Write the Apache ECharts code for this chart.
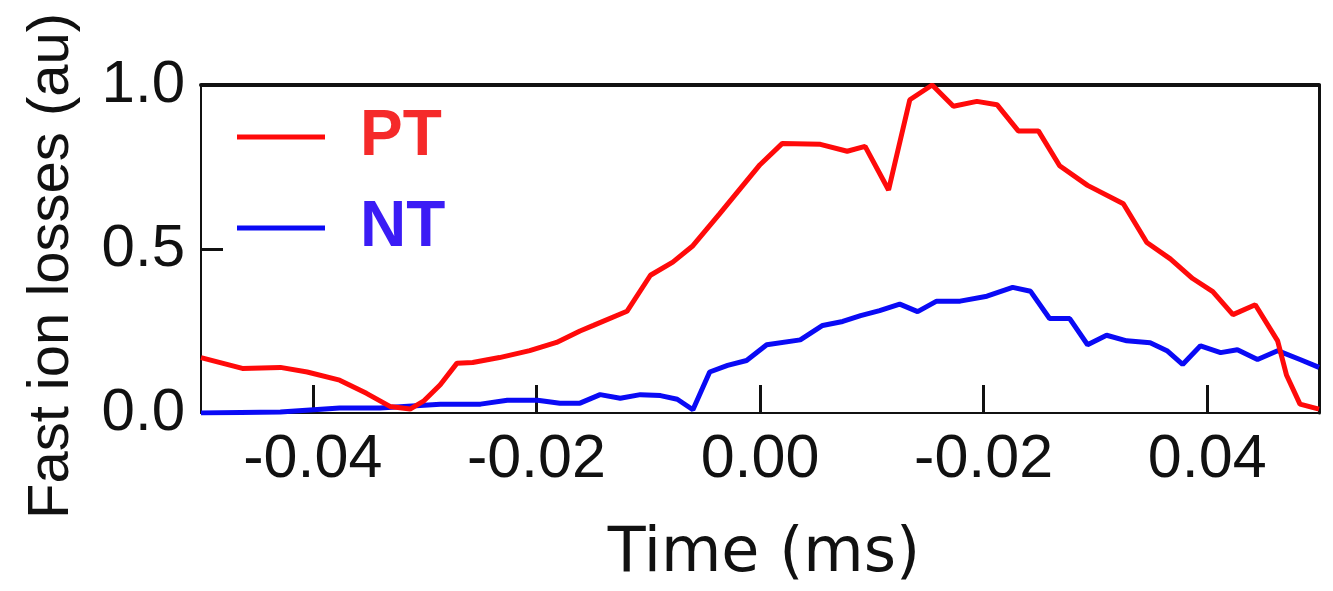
<!DOCTYPE html>
<html>
<head>
<meta charset="utf-8">
<title>Fast ion losses</title>
<script src="https://cdn.jsdelivr.net/npm/echarts@6/dist/echarts.min.js"></script>
<style>
  html, body { margin: 0; padding: 0; background: #fff; }
  #chart { width: 1333px; height: 591px; }
</style>
</head>
<body>
<div id="chart"></div>
<script>
// PT (positive triangularity) fast ion losses, time in ms
const ptTime = [-0.0500, -0.0463, -0.0429, -0.0405, -0.0376, -0.0352, -0.0331, -0.0313, -0.0301, -0.0286,
  -0.0271, -0.0257, -0.0233, -0.0206, -0.0182, -0.0161, -0.0149, -0.0119, -0.0098, -0.0078,
  -0.0060, -0.0036, 0.0000, 0.0020, 0.0054, 0.0078, 0.0094, 0.0115, 0.0134, 0.0154,
  0.0173, 0.0194, 0.0212, 0.0231, 0.0249, 0.0268, 0.0293, 0.0325, 0.0346, 0.0367,
  0.0387, 0.0405, 0.0423, 0.0443, 0.0463, 0.0471, 0.0483, 0.0500];
const ptLoss = [0.169, 0.136, 0.139, 0.125, 0.100, 0.060, 0.020, 0.012, 0.036, 0.086,
  0.152, 0.154, 0.169, 0.190, 0.215, 0.250, 0.267, 0.310, 0.420, 0.460,
  0.510, 0.608, 0.757, 0.822, 0.819, 0.798, 0.813, 0.680, 0.955, 1.000,
  0.935, 0.950, 0.940, 0.860, 0.860, 0.754, 0.694, 0.638, 0.520, 0.470,
  0.410, 0.370, 0.300, 0.330, 0.220, 0.115, 0.027, 0.012];

// NT (negative triangularity) fast ion losses
const ntTime = [-0.0500, -0.0429, -0.0376, -0.0340, -0.0286, -0.0250, -0.0226, -0.0199, -0.0179, -0.0161,
  -0.0143, -0.0125, -0.0107, -0.0089, -0.0074, -0.0060, -0.0045, -0.0029, -0.0012, 0.0006,
  0.0036, 0.0056, 0.0074, 0.0090, 0.0107, 0.0125, 0.0141, 0.0158, 0.0179, 0.0203,
  0.0226, 0.0242, 0.0259, 0.0277, 0.0293, 0.0310, 0.0328, 0.0349, 0.0364, 0.0378,
  0.0394, 0.0412, 0.0427, 0.0445, 0.0463, 0.0483, 0.0500];
const ntLoss = [0.000, 0.003, 0.015, 0.015, 0.027, 0.027, 0.039, 0.039, 0.030, 0.030,
  0.056, 0.045, 0.056, 0.053, 0.042, 0.010, 0.125, 0.145, 0.160, 0.208,
  0.223, 0.267, 0.279, 0.297, 0.312, 0.332, 0.309, 0.341, 0.341, 0.356,
  0.383, 0.371, 0.288, 0.288, 0.208, 0.237, 0.220, 0.214, 0.190, 0.148,
  0.205, 0.184, 0.193, 0.163, 0.190, 0.163, 0.139];

// Time axis ticks and the labels printed under them
const xTickValues = [-0.04, -0.02, 0.00, 0.02, 0.04];
const xTickLabels = ['-0.04', '-0.02', '0.00', '-0.02', '0.04'];

const seriesNames = ['PT', 'NT'];

const pair = (xs, ys) => xs.map((x, i) => [x, ys[i]]);

const ink = '#111';
const chart = echarts.init(document.getElementById('chart'), null, { renderer: 'canvas' });

chart.setOption({
  backgroundColor: '#fff',
  animation: false,
  grid: { left: 201, right: 14, top: 85, bottom: 169, containLabel: false },
  legend: {
    orient: 'vertical',
    left: 237,
    top: 103,
    padding: 0,
    icon: 'rect',
    itemWidth: 88,
    itemHeight: 5,
    itemGap: 23,
    textStyle: { fontFamily: 'Liberation Sans', fontWeight: 'bold', fontSize: 64, lineHeight: 64, padding: [4, 0, 0, 30] },
    data: [
      { name: seriesNames[0], textStyle: { color: '#f52a2a' } },
      { name: seriesNames[1], textStyle: { color: '#3b1cf5' } }
    ]
  },
  xAxis: [
    {
      type: 'value', min: -0.05, max: 0.05, position: 'bottom',
      axisLine: { onZero: false, lineStyle: { color: ink, width: 2 } },
      axisTick: { inside: true, length: 28, customValues: xTickValues, lineStyle: { color: ink, width: 3 } },
      axisLabel: {
        customValues: xTickValues, margin: 17,
        fontFamily: 'Liberation Sans', fontSize: 61, color: ink,
        formatter: v => {
          const i = xTickValues.findIndex(t => Math.abs(t - v) < 1e-9);
          return i >= 0 ? xTickLabels[i] : '';
        }
      },
      splitLine: { show: false },
      name: 'Time (ms)', nameLocation: 'middle', nameGap: 111,
      nameTextStyle: { fontFamily: 'DejaVu Sans', fontSize: 62, color: ink, padding: [0, 0, 0, 8] }
    },
    {
      type: 'value', min: -0.05, max: 0.05, position: 'top',
      axisLine: { onZero: false, lineStyle: { color: ink, width: 4 } },
      axisTick: { show: false }, axisLabel: { show: false }, splitLine: { show: false }
    }
  ],
  yAxis: [
    {
      type: 'value', min: 0, max: 1, interval: 0.5, position: 'left',
      axisLine: { show: true, onZero: false, lineStyle: { color: ink, width: 2 } },
      axisTick: { show: true, inside: true, length: 22, lineStyle: { color: ink, width: 3 } },
      axisLabel: { margin: 16, fontFamily: 'Liberation Sans', fontSize: 60, color: ink, formatter: v => v.toFixed(1) },
      splitLine: { show: false },
      name: 'Fast ion losses (au)', nameLocation: 'middle', nameGap: 120, nameRotate: 90,
      nameTextStyle: { fontFamily: 'Liberation Sans', fontSize: 58, color: ink, padding: [0, 34, 0, 0] }
    },
    {
      type: 'value', min: 0, max: 1, position: 'right',
      axisLine: { show: true, onZero: false, lineStyle: { color: ink, width: 3 } },
      axisTick: { show: false }, axisLabel: { show: false }, splitLine: { show: false }
    }
  ],
  series: [
    {
      name: seriesNames[0], type: 'line', xAxisIndex: 0, yAxisIndex: 0,
      data: pair(ptTime, ptLoss), showSymbol: false,
      lineStyle: { color: '#ff0a0a', width: 5 }, itemStyle: { color: '#ff0a0a' }, z: 3
    },
    {
      name: seriesNames[1], type: 'line', xAxisIndex: 0, yAxisIndex: 0,
      data: pair(ntTime, ntLoss), showSymbol: false,
      lineStyle: { color: '#0a0af5', width: 5 }, itemStyle: { color: '#0a0af5' }, z: 2
    }
  ]
});
</script>
</body>
</html>
